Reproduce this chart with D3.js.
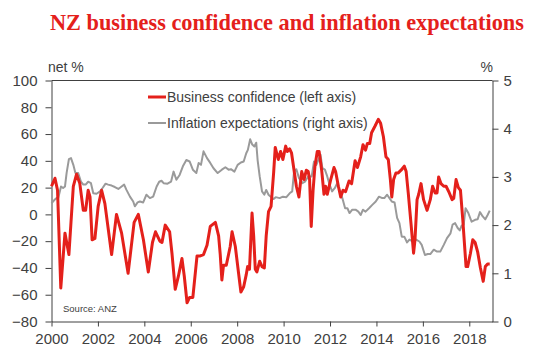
<!DOCTYPE html>
<html>
<head>
<meta charset="utf-8">
<script src="https://cdn.jsdelivr.net/npm/d3@7"></script>
<style>
  html, body { margin: 0; padding: 0; background: #ffffff; }
  svg { display: block; }
  text { font-family: "Liberation Sans", Arial, sans-serif; fill: #404040; }
</style>
</head>
<body>
<svg id="chart" width="540" height="364"></svg>
<script>
// ---- Data ----
const title = "NZ business confidence and inflation expectations";
const leftAxisLabel = "net %";
const rightAxisLabel = "%";
const sourceNote = "Source: ANZ";
const seriesNames = ["Business confidence (left axis)", "Inflation expectations (right axis)"];

const xTicks = [2000, 2002, 2004, 2006, 2008, 2010, 2012, 2014, 2016, 2018];
const leftTicks = [-80, -60, -40, -20, 0, 20, 40, 60, 80, 100];
const rightTicks = [0, 1, 2, 3, 4, 5];

// Business confidence (net %), decimal-year dates
const bcDates = [
  2000.0, 2000.15, 2000.26, 2000.4, 2000.58, 2000.75, 2000.94, 2001.08, 2001.22, 2001.37,
  2001.47, 2001.58, 2001.66, 2001.75, 2001.87, 2002.01, 2002.16, 2002.3, 2002.59, 2002.8,
  2003.02, 2003.3, 2003.56, 2003.74, 2003.96, 2004.17, 2004.35, 2004.48, 2004.67, 2004.76,
  2004.9, 2005.09, 2005.19, 2005.33, 2005.47, 2005.62, 2005.72, 2005.84, 2005.95, 2006.09,
  2006.27, 2006.41, 2006.55, 2006.7, 2006.84, 2007.06, 2007.2, 2007.27, 2007.34, 2007.41,
  2007.53, 2007.7, 2007.78, 2007.92, 2008.06, 2008.16, 2008.28, 2008.39, 2008.45, 2008.53,
  2008.64, 2008.71, 2008.78, 2008.85, 2008.97, 2009.07, 2009.17, 2009.25, 2009.35, 2009.46,
  2009.57, 2009.64, 2009.77, 2009.87, 2009.97, 2010.09, 2010.16, 2010.26, 2010.34, 2010.45,
  2010.55, 2010.66, 2010.78, 2010.88, 2010.98, 2011.06, 2011.12, 2011.19, 2011.27, 2011.35,
  2011.45, 2011.53, 2011.64, 2011.74, 2011.81, 2011.88, 2012.03, 2012.17, 2012.24, 2012.36,
  2012.46, 2012.56, 2012.67, 2012.82, 2012.93, 2013.08, 2013.18, 2013.32, 2013.42, 2013.53,
  2013.61, 2013.71, 2013.79, 2013.94, 2014.08, 2014.18, 2014.3, 2014.41, 2014.51, 2014.6,
  2014.66, 2014.74, 2014.84, 2014.94, 2015.06, 2015.2, 2015.28, 2015.37, 2015.49, 2015.6,
  2015.66, 2015.75, 2015.82, 2015.92, 2016.03, 2016.18, 2016.32, 2016.42, 2016.53, 2016.61,
  2016.68, 2016.78, 2016.9, 2017.0, 2017.14, 2017.26, 2017.33, 2017.43, 2017.53, 2017.62,
  2017.72, 2017.86, 2017.93, 2018.05, 2018.15, 2018.25, 2018.36, 2018.48, 2018.6, 2018.69,
  2018.79, 2018.88
];
const bcValues = [
  21, 27, 18, -55, -14, -30, 21, 30, 23, 3,
  3, 18, 13, -19, -18, 6, 18, 8, -30, 0,
  -14, -44, -6, 0, -19, -43, -21, -13, -20, -21,
  -8, -13, -29, -56, -46, -33, -46, -66, -62, -62,
  -31, -31, -30, -23, -9, -6, -16, -30, -49, -38,
  -38, -24, -13, -24, -44, -58, -54, -45, -39, -41,
  1, -16, -41, -43, -35, -39, -40, -16, 2, 6,
  31, 50, 41, 47, 41, 51, 47, 49, 46, 33,
  21, 13, 32, 26, 33, 32, 26, -9, 18, 36,
  47, 47, 33, 15, 21, 15, 26, 35, 32, 21,
  13, 18, 17, 25, 23, 40, 35, 43, 52, 48,
  53, 53, 61, 66, 71, 68, 58, 43, 41, 26,
  13, 26, 31, 31, 33, 36, 32, 16, -7, -29,
  -19, 11, 15, 23, 11, 3, 11, 21, 16, 16,
  28, 23, 21, 21, 16, 11, 12, 26, 20, 18,
  -4, -39, -39, -29, -19, -21, -28, -40, -50, -39,
  -37, -37
];

// Inflation expectations (%), decimal-year dates
const ieDates = [
  2000.0, 2000.12, 2000.22, 2000.29, 2000.41, 2000.5, 2000.58, 2000.65, 2000.75, 2000.84,
  2000.94, 2001.03, 2001.15, 2001.27, 2001.37, 2001.47, 2001.58, 2001.7, 2001.8, 2001.94,
  2002.09, 2002.2, 2002.33, 2002.44, 2002.59, 2002.73, 2002.88, 2003.02, 2003.13, 2003.23,
  2003.38, 2003.52, 2003.59, 2003.71, 2003.81, 2003.95, 2004.09, 2004.24, 2004.38, 2004.53,
  2004.64, 2004.74, 2004.83, 2005.0, 2005.15, 2005.26, 2005.38, 2005.52, 2005.66, 2005.81,
  2005.95, 2006.09, 2006.24, 2006.34, 2006.44, 2006.55, 2006.7, 2006.84, 2006.98, 2007.16,
  2007.34, 2007.49, 2007.63, 2007.73, 2007.88, 2008.02, 2008.16, 2008.28, 2008.39, 2008.46,
  2008.56, 2008.65, 2008.74, 2008.82, 2008.88, 2008.97, 2009.07, 2009.17, 2009.25, 2009.35,
  2009.46, 2009.57, 2009.66, 2009.83, 2009.97, 2010.12, 2010.26, 2010.37, 2010.45, 2010.55,
  2010.66, 2010.81, 2010.92, 2011.06, 2011.21, 2011.31, 2011.41, 2011.53, 2011.59, 2011.67,
  2011.78, 2011.88, 2011.98, 2012.09, 2012.21, 2012.31, 2012.46, 2012.53, 2012.65, 2012.75,
  2012.84, 2012.96, 2013.1, 2013.22, 2013.32, 2013.42, 2013.53, 2013.68, 2013.82, 2013.97,
  2014.11, 2014.25, 2014.34, 2014.46, 2014.56, 2014.66, 2014.78, 2014.89, 2014.99, 2015.09,
  2015.2, 2015.32, 2015.42, 2015.56, 2015.71, 2015.85, 2015.95, 2016.09, 2016.21, 2016.32,
  2016.47, 2016.61, 2016.75, 2016.9, 2017.04, 2017.19, 2017.28, 2017.39, 2017.5, 2017.59,
  2017.67, 2017.76, 2017.84, 2017.96, 2018.1, 2018.25, 2018.36, 2018.46, 2018.58, 2018.69,
  2018.79, 2018.88
];
const ieValues = [
  2.45, 2.52, 2.56, 2.56, 2.80, 2.77, 2.80, 3.08, 3.37, 3.39,
  3.25, 3.08, 3.08, 2.90, 2.84, 2.84, 2.90, 2.87, 2.66, 2.65,
  2.70, 2.77, 2.86, 2.84, 2.82, 2.79, 2.75, 2.80, 2.84, 2.73,
  2.59, 2.49, 2.39, 2.47, 2.49, 2.47, 2.63, 2.56, 2.59, 2.80,
  2.90, 2.92, 2.87, 2.86, 2.90, 3.11, 2.94, 3.04, 3.22, 3.35,
  3.32, 3.15, 3.08, 3.29, 3.25, 3.53, 3.39, 3.29, 3.18, 3.08,
  3.15, 3.20, 3.15, 3.16, 3.11, 3.25, 3.30, 3.32, 3.49, 3.56,
  3.78, 3.67, 3.63, 3.71, 3.35, 3.01, 2.70, 2.63, 2.73, 2.63,
  2.58, 2.54, 2.58, 2.56, 2.59, 2.58, 2.66, 2.70, 3.11, 3.16,
  2.98, 2.87, 2.90, 3.01, 3.01, 3.32, 3.25, 3.39, 3.46, 3.18,
  3.15, 3.01, 2.84, 2.70, 2.77, 2.87, 2.66, 2.56, 2.35, 2.35,
  2.25, 2.32, 2.32, 2.28, 2.21, 2.32, 2.28, 2.35, 2.42, 2.49,
  2.59, 2.56, 2.56, 2.63, 2.56, 2.49, 2.47, 2.15, 2.04, 1.76,
  1.76, 1.64, 1.70, 1.66, 1.70, 1.66, 1.59, 1.38, 1.40, 1.40,
  1.49, 1.45, 1.45, 1.59, 1.73, 1.83, 2.01, 2.04, 1.94, 1.89,
  1.99, 2.01, 2.35, 2.25, 2.07, 2.11, 2.12, 2.27, 2.18, 2.12,
  2.21, 2.30
];

// ---- Layout ----
const W = 540, H = 364;
const plot = { left: 51.5, right: 492.5, top: 80.5, bottom: 321.5 };
const colors = { bc: "#e4201b", ie: "#9a9a9a", text: "#404040", axis: "#404040", title: "#e4201b" };

const svg = d3.select("#chart");

const x = d3.scaleLinear().domain([2000, 2019]).range([plot.left, plot.right]);
const yL = d3.scaleLinear().domain([-80, 100]).range([plot.bottom, plot.top]);
const yR = d3.scaleLinear().domain([0, 5]).range([plot.bottom, plot.top]);

// Title
svg.append("text")
  .attr("x", 50).attr("y", 30)
  .style("font-family", "'Liberation Serif', 'Times New Roman', serif")
  .style("font-weight", "bold")
  .style("font-size", "22.3px")
  .style("fill", colors.title)
  .text(title);

// Axis unit labels
svg.append("text").attr("x", 48).attr("y", 72)
  .style("font-size", "14px").text(leftAxisLabel);
svg.append("text").attr("x", 493).attr("y", 72).attr("text-anchor", "end")
  .style("font-size", "14px").text(rightAxisLabel);

// Top frame line
svg.append("line")
  .attr("x1", plot.left).attr("x2", plot.right)
  .attr("y1", plot.top).attr("y2", plot.top)
  .attr("stroke", colors.axis).attr("stroke-width", 1);

function styleAxis(g) {
  g.selectAll("path.domain").attr("stroke", colors.axis);
  g.selectAll(".tick line").attr("stroke", colors.axis);
  g.selectAll(".tick text")
    .style("font-family", "'Liberation Sans', Arial, sans-serif")
    .style("font-size", "15px")
    .attr("fill", colors.text);
}

// Left axis
svg.append("g")
  .attr("transform", `translate(${plot.left},0)`)
  .call(d3.axisLeft(yL).tickValues(leftTicks).tickSize(6).tickSizeOuter(0).tickPadding(8))
  .call(styleAxis);

// Right axis
svg.append("g")
  .attr("transform", `translate(${plot.right},0)`)
  .call(d3.axisRight(yR).tickValues(rightTicks).tickSize(6).tickSizeOuter(0).tickPadding(5).tickFormat(d3.format("d")))
  .call(styleAxis);

// Bottom axis
svg.append("g")
  .attr("transform", `translate(0,${plot.bottom})`)
  .call(d3.axisBottom(x).tickValues(xTicks).tickSize(5).tickSizeOuter(0).tickPadding(7).tickFormat(d3.format("d")))
  .call(styleAxis);

// Lines
const bcData = bcDates.map((d, i) => ({ t: d, v: bcValues[i] }));
const ieData = ieDates.map((d, i) => ({ t: d, v: ieValues[i] }));

svg.append("path")
  .datum(ieData)
  .attr("fill", "none")
  .attr("stroke", colors.ie)
  .attr("stroke-width", 2)
  .attr("stroke-linejoin", "round")
  .attr("d", d3.line().x(d => x(d.t)).y(d => yR(d.v)));

svg.append("path")
  .datum(bcData)
  .attr("fill", "none")
  .attr("stroke", colors.bc)
  .attr("stroke-width", 3)
  .attr("stroke-linejoin", "round")
  .attr("d", d3.line().x(d => x(d.t)).y(d => yL(d.v)));

// Legend
const legend = svg.append("g");
const legendItems = [
  { name: seriesNames[0], color: colors.bc, width: 3, y: 97 },
  { name: seriesNames[1], color: colors.ie, width: 2, y: 123 }
];
legendItems.forEach(it => {
  legend.append("line")
    .attr("x1", 148).attr("x2", 166)
    .attr("y1", it.y).attr("y2", it.y)
    .attr("stroke", it.color).attr("stroke-width", it.width);
  legend.append("text")
    .attr("x", 167).attr("y", it.y + 5)
    .style("font-size", "14px")
    .text(it.name);
});

// Source
svg.append("text")
  .attr("x", 63).attr("y", 312)
  .style("font-size", "9.5px")
  .text(sourceNote);
</script>
</body>
</html>
